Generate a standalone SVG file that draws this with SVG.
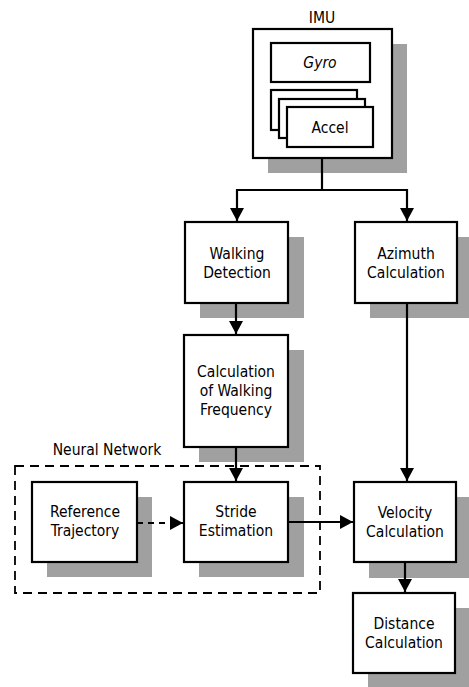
<svg xmlns="http://www.w3.org/2000/svg" width="469" height="687" viewBox="0 0 469 687">
<style>
.box{fill:#fff;stroke:#000;stroke-width:2.2}
.sh{fill:#a0a0a0}
.t{font-family:"DejaVu Sans Condensed","DejaVu Sans",Verdana,sans-serif;font-stretch:condensed;font-size:15.5px;fill:#000;text-anchor:middle}
.ln{stroke:#000;stroke-width:2.2;fill:none}
.dash{stroke:#000;stroke-width:1.8;fill:none;stroke-dasharray:9,6}
</style>
<defs>
<marker id="ah" markerWidth="16" markerHeight="16" refX="13" refY="7" orient="auto" markerUnits="userSpaceOnUse">
<path d="M0,0 L13,7 L0,14 Z" fill="#000"/>
</marker>
</defs>
<rect width="469" height="687" fill="#fff"/>

<g id="neural-network">
<rect class="dash" x="15" y="466" width="305" height="127"/>
<text class="t" x="107" y="455">Neural Network</text>
</g>

<g id="imu">
<text class="t" x="322" y="23">IMU</text>
<rect class="sh" x="268" y="44" width="139" height="129"/>
<rect class="box" x="253" y="29" width="139" height="129"/>
<rect class="box" x="271" y="43" width="99" height="39"/>
<text class="t" x="320" y="68" font-style="italic">Gyro</text>
<rect class="box" x="271" y="90" width="86" height="40"/>
<rect class="box" x="279" y="99" width="86" height="39"/>
<rect class="box" x="287" y="107" width="86" height="40"/>
<text class="t" x="330" y="133">Accel</text>
</g>

<g id="walking-detection">
<rect class="sh" x="200" y="237" width="104" height="81"/>
<rect class="box" x="185" y="222" width="103" height="81"/>
<text class="t" x="237" y="259">Walking</text>
<text class="t" x="237" y="278">Detection</text>
</g>

<g id="azimuth">
<rect class="sh" x="370" y="237" width="102" height="81"/>
<rect class="box" x="355" y="222" width="102" height="81"/>
<text class="t" x="406" y="259">Azimuth</text>
<text class="t" x="406" y="278">Calculation</text>
</g>

<g id="walking-frequency">
<rect class="sh" x="199" y="350" width="105" height="112"/>
<rect class="box" x="184" y="335" width="104" height="112"/>
<text class="t" x="236" y="377">Calculation</text>
<text class="t" x="236" y="396">of Walking</text>
<text class="t" x="236" y="415">Frequency</text>
</g>

<g id="reference-trajectory">
<rect class="sh" x="47" y="497" width="105" height="80"/>
<rect class="box" x="32" y="482" width="105" height="80"/>
<text class="t" x="85" y="517">Reference</text>
<text class="t" x="85" y="536">Trajectory</text>
</g>

<g id="stride-estimation">
<rect class="sh" x="199" y="497" width="105" height="80"/>
<rect class="box" x="184" y="482" width="104" height="80"/>
<text class="t" x="236" y="517">Stride</text>
<text class="t" x="236" y="536">Estimation</text>
</g>

<g id="velocity">
<rect class="sh" x="369" y="497" width="102" height="81"/>
<rect class="box" x="354" y="482" width="102" height="80"/>
<text class="t" x="405" y="518">Velocity</text>
<text class="t" x="405" y="537">Calculation</text>
</g>

<g id="distance">
<rect class="sh" x="368" y="608" width="102" height="80"/>
<rect class="box" x="353" y="593" width="102" height="80"/>
<text class="t" x="404" y="629">Distance</text>
<text class="t" x="404" y="648">Calculation</text>
</g>

<g id="connectors">
<path class="ln" d="M322,158 V190"/>
<path class="ln" d="M236,190 H408"/>
<path class="ln" d="M237,189 V221" marker-end="url(#ah)"/>
<path class="ln" d="M407,189 V221" marker-end="url(#ah)"/>
<path class="ln" d="M236,303 V334" marker-end="url(#ah)"/>
<path class="ln" d="M236,447 V481" marker-end="url(#ah)"/>
<path class="ln" d="M407,303 V481" marker-end="url(#ah)"/>
<path class="ln" d="M137,523 H183" stroke-dasharray="6,5" marker-end="url(#ah)"/>
<path class="ln" d="M288,522 H353" marker-end="url(#ah)"/>
<path class="ln" d="M405,562 V592" marker-end="url(#ah)"/>
</g>
</svg>
